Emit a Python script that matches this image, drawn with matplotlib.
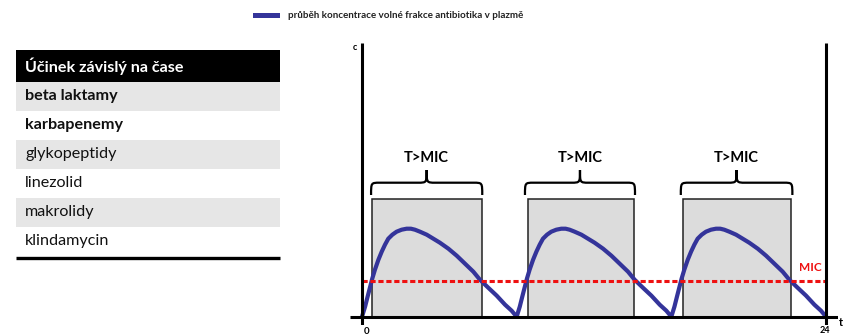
import numpy as np
import matplotlib
matplotlib.use("Agg")
import matplotlib.pyplot as plt
from matplotlib.patches import Rectangle, PathPatch
from matplotlib.path import Path

plt.rcParams["font.family"] = ["Lato", "DejaVu Sans"]

# Left table
header = "Účinek závislý na čase"
drugs = ["beta laktamy", "karbapenemy", "glykopeptidy", "linezolid", "makrolidy", "klindamycin"]
drug_bold = [True, True, False, False, False, False]

# One dosing cycle of the concentration curve (hours after dose, concentration)
cycle_t = [0.0, 0.16, 0.29, 0.41, 0.53, 0.67, 0.85, 1.02, 1.19, 1.36, 1.57, 1.79,
           2.05, 2.31, 2.53, 2.74, 3.0, 3.35, 3.69, 4.03, 4.47, 4.9, 5.33, 5.76,
           6.1, 6.53, 6.97, 7.4, 7.74, 8.0]
cycle_c = [0, 10, 20, 29, 38, 47, 57, 65, 72, 78, 82, 85,
           87, 88, 88, 87, 85, 82, 78, 74, 68, 61, 53, 45,
           37, 29, 21, 12, 6, 0]
dose_times = [0, 8, 16]
mic = 36

# Time above MIC windows (start, end) and their braces
tmic_start = [0.53, 8.60, 16.62]
tmic_end = [6.19, 14.09, 22.18]
brace_start = [0.47, 8.43, 16.49]
brace_end = [6.22, 14.12, 22.26]
box_top = 118

BLUE = "#34349a"
RED = "#ee1111"

fig = plt.figure(figsize=(8.44, 3.35), dpi=100)

# background axes in pixel coordinates for table + legend
bg = fig.add_axes([0, 0, 1, 1])
bg.set_xlim(0, 844)
bg.set_ylim(335, 0)
bg.axis("off")

row_h = 29.05
bg.add_patch(Rectangle((16, 50), 264, 31.7, color="black", lw=0))
bg.text(25, 66, header, color="white", fontsize=11.6, fontweight="bold", va="center")
for i, (d, b) in enumerate(zip(drugs, drug_bold)):
    y0 = 81.7 + i * row_h
    if i % 2 == 0:
        bg.add_patch(Rectangle((16, y0), 264, row_h, color="#e6e6e6", lw=0))
    bg.text(25, y0 + row_h / 2, d, color="#111111", fontsize=11.6,
            fontweight="bold" if b else "normal", va="center")
bg.plot([16, 280], [257.6, 257.6], color="black", lw=2.4, solid_capstyle="butt")

# legend
bg.add_patch(Rectangle((253, 12.7), 27, 5.6, color=BLUE, lw=0))
bg.text(288, 15.5, "průběh koncentrace volné frakce antibiotika v plazmě",
        fontsize=7.1, fontweight="bold", va="center", color="#222222")

# chart
px_l, px_r, px_t, px_b = 350, 838, 43, 325
ax = fig.add_axes([px_l / 844, (335 - px_b) / 335, (px_r - px_l) / 844, (px_b - px_t) / 335])
ax.set_xlim(-0.62, 24.62)
ax.set_ylim(-8.3, 273.7)
ax.axis("off")

for s, e in zip(tmic_start, tmic_end):
    ax.add_patch(Rectangle((s, 0), e - s, box_top, facecolor="#dcdcdc",
                           edgecolor="#222222", lw=1.1, zorder=1))

t_all, c_all = [], []
for d in dose_times:
    t_all += [d + t for t in cycle_t]
    c_all += cycle_c
ax.plot(t_all, c_all, color=BLUE, lw=3.0, zorder=4, solid_joinstyle="round")

ax.plot([0, 24], [mic, mic], color=RED, lw=2.2, dashes=(1.7, 0.9), zorder=5)
ax.text(23.17, 49.4, "MIC", color=RED, fontsize=8.5, fontweight="bold", ha="center", va="center")

# braces
yb, ym, ytip = 121.7, 134.0, 146.7
r = 0.45
for s, e in zip(brace_start, brace_end):
    xc = (s + e) / 2
    verts = [(s, yb), (s, ym), (s, ym), (s + r, ym), (xc - r, ym),
             (xc, ym), (xc, ym), (xc, ytip),
             (xc, ym), (xc, ym), (xc + r, ym), (e - r, ym),
             (e, ym), (e, ym), (e, yb)]
    codes = [Path.MOVETO, Path.CURVE4, Path.CURVE4, Path.CURVE4, Path.LINETO,
             Path.CURVE4, Path.CURVE4, Path.CURVE4,
             Path.CURVE4, Path.CURVE4, Path.CURVE4, Path.LINETO,
             Path.CURVE4, Path.CURVE4, Path.CURVE4]
    ax.add_patch(PathPatch(Path(verts, codes), facecolor="none", edgecolor="black",
                           lw=1.6, zorder=3))
    ax.text(xc, 159, "T>MIC", fontsize=10.5, fontweight="bold", ha="center", va="center")

# axes lines
ax.plot([-0.62, 24.62], [0, 0], color="black", lw=2.2, zorder=6, solid_capstyle="butt")
ax.plot([0, 0], [-8.3, 273.7], color="black", lw=2.2, zorder=6, solid_capstyle="butt")
ax.plot([24, 24], [-8.3, 273.7], color="black", lw=2.2, zorder=6, solid_capstyle="butt")
ax.text(-0.36, 269.7, "c", fontsize=6.5, fontweight="bold", ha="center", va="center")
ax.text(24.75, -6.3, "t", fontsize=8, fontweight="bold", ha="center", va="center", clip_on=False)
ax.text(0.24, -14.5, "0", fontsize=7, fontweight="bold", ha="center", va="center")
ax.text(23.95, -13.8, "24", fontsize=6.5, fontweight="bold", ha="center", va="center")

fig.savefig("out.png", dpi=100)
